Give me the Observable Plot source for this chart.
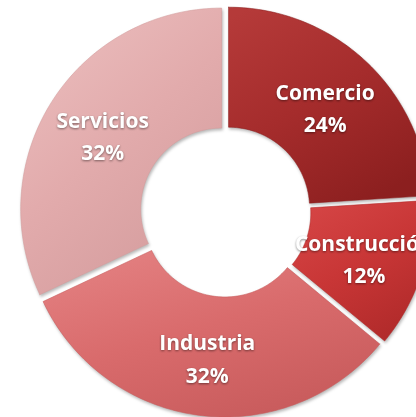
<!DOCTYPE html>
<html><head><meta charset="utf-8">
<script src="https://cdn.jsdelivr.net/npm/d3@7"></script>
<script src="https://cdn.jsdelivr.net/npm/@observablehq/plot@0.6"></script>
<style>
html,body{margin:0;padding:0;background:#fff;overflow:hidden}
#chart svg{display:block}
#chart svg g.slice path{filter:drop-shadow(1px 2px 1.5px rgba(0,0,0,0.28))}
#chart svg g.lbl text{filter:drop-shadow(0.5px 1px 1px rgba(0,0,0,0.45))}
</style></head><body><div id="chart"></div>
<script>
// data
const categories = ["Comercio", "Construcción", "Industria", "Servicios"];
const shares = [24, 12, 32, 32];
const shareLabels = ["24%", "12%", "32%", "32%"];
// styles
const baseColors = ["#a52c2c", "#c83636", "#d96b6c", "#e2abac"];
const lightColors = ["#b53a39", "#d64646", "#e48283", "#ecbfbf"];
const darkColors = ["#8c1f1f", "#b02a2a", "#c85b5c", "#d49c9d"];

const W = 416, H = 417;
const cxPx = 225, cyPx = 211, Rpx = 201;
const inner = 81 / Rpx, explode = 4.5 / Rpx;

const arcs = d3.pie().sort(null).value(d => d)(shares);
const slices = arcs.map((a, i) => {
  const m = (a.startAngle + a.endAngle) / 2;
  const ox = explode * Math.sin(m), oy = explode * Math.cos(m);
  const pts = [];
  const n = 80;
  for (let k = 0; k <= n; k++) {
    const t = a.startAngle + (a.endAngle - a.startAngle) * k / n;
    pts.push({x: ox + Math.sin(t), y: oy + Math.cos(t)});
  }
  for (let k = n; k >= 0; k--) {
    const t = a.startAngle + (a.endAngle - a.startAngle) * k / n;
    pts.push({x: ox + inner * Math.sin(t), y: oy + inner * Math.cos(t)});
  }
  pts.push(pts[0]);
  const rl = (1 + inner) / 2 + explode;
  return {pts, label: {x: rl * Math.sin(m), y: rl * Math.cos(m), text: categories[i] + "\n" + shareLabels[i]}};
});

const plot = Plot.plot({
  width: W, height: H,
  margin: 0,
  x: {domain: [(0 - cxPx) / Rpx, (W - cxPx) / Rpx], axis: null},
  y: {domain: [-(H - cyPx) / Rpx, cyPx / Rpx], axis: null},
  style: {background: "white", overflow: "hidden"},
  marks: [
    ...slices.map((s, i) => Plot.line(s.pts, {x: "x", y: "y", fill: `url(#grad${i})`, stroke: darkColors[i], strokeWidth: 0.8, strokeOpacity: 0.7, className: "slice"})),
    Plot.text(slices.map(s => s.label), {x: "x", y: "y", text: "text", fill: "white", fontSize: 21, fontWeight: "bold", fontFamily: "Open Sans", lineHeight: 1.55, className: "lbl"})
  ]
});

const ns = "http://www.w3.org/2000/svg";
const defs = document.createElementNS(ns, "defs");
baseColors.forEach((c, i) => {
  const g = document.createElementNS(ns, "linearGradient");
  g.setAttribute("id", "grad" + i);
  g.setAttribute("x1", "0.1"); g.setAttribute("y1", "0");
  g.setAttribute("x2", "0.7"); g.setAttribute("y2", "1");
  [[0, lightColors[i]], [0.5, c], [1, darkColors[i]]].forEach(([o, col]) => {
    const s = document.createElementNS(ns, "stop");
    s.setAttribute("offset", o); s.setAttribute("stop-color", col);
    g.appendChild(s);
  });
  defs.appendChild(g);
});
plot.insertBefore(defs, plot.firstChild);
document.getElementById("chart").appendChild(plot);
</script></body></html>
